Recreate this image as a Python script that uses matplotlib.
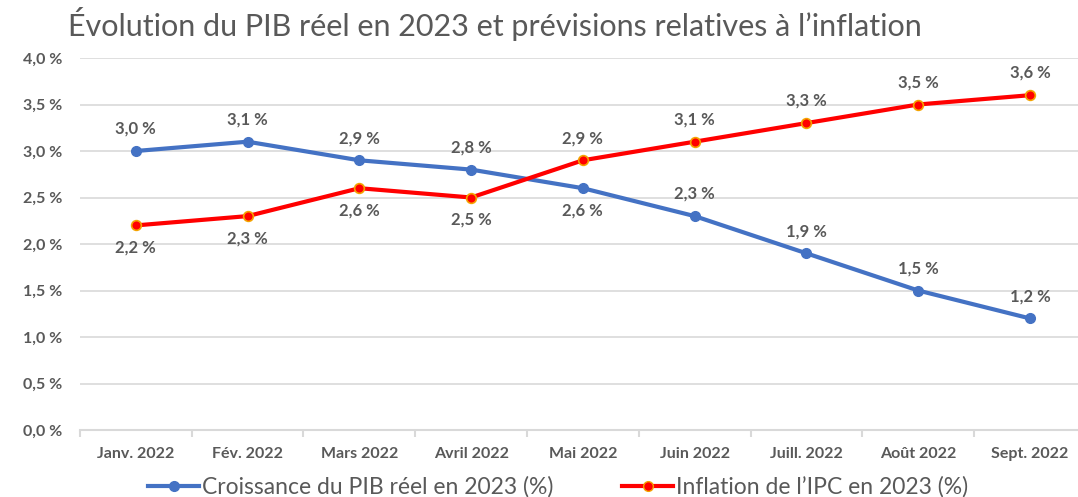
import matplotlib.pyplot as plt
from matplotlib.lines import Line2D

plt.rcParams['font.family'] = ['Lato', 'DejaVu Sans']

MONTHS = ["Janv. 2022", "Fév. 2022", "Mars 2022", "Avril 2022", "Mai 2022",
          "Juin 2022", "Juill. 2022", "Août 2022", "Sept. 2022"]
PIB = [3.0, 3.1, 2.9, 2.8, 2.6, 2.3, 1.9, 1.5, 1.2]
IPC = [2.2, 2.3, 2.6, 2.5, 2.9, 3.1, 3.3, 3.5, 3.6]
# label above (+1) or below (-1) each point
PIB_POS = [1, 1, 1, 1, -1, 1, 1, 1, 1]
IPC_POS = [-1, -1, -1, -1, 1, 1, 1, 1, 1]

BLUE = "#4472C4"
RED = "#FF0000"
GRAY = "#595959"
GRID = "#D9D9D9"

fig = plt.figure(figsize=(10.78, 4.97), dpi=100)
ax = fig.add_axes([0.0742, 0.1348, 0.933, 0.7485])

x = list(range(len(MONTHS)))
ax.plot(x, PIB, color=BLUE, lw=3, marker="o", ms=7, mfc=BLUE, mec=BLUE, zorder=3)
ax.plot(x, IPC, color=RED, lw=3, marker="o", ms=7, mfc=RED, mec="#F4A300",
        mew=1.2, zorder=3)

def fmt(v):
    return f"{v:.1f}".replace(".", ",") + " %"

for xs, vals, pos in [(x, PIB, PIB_POS), (x, IPC, IPC_POS)]:
    for xi, v, p in zip(xs, vals, pos):
        ax.annotate(fmt(v), (xi, v), xytext=(0, 16 * p), textcoords="offset points",
                    ha="center", va="center", fontsize=12, fontweight="bold",
                    color=GRAY)

ax.set_xlim(-0.5, 8.5)
ax.set_ylim(0, 4.0)
ax.set_yticks([i * 0.5 for i in range(9)])
ax.set_yticklabels([fmt(i * 0.5) for i in range(9)], fontsize=11.5,
                   fontweight="bold", color=GRAY)
ax.set_xticks(x)
ax.set_xticklabels(MONTHS, fontsize=11.5, fontweight="bold", color=GRAY)
ax.set_xticks([i - 0.5 for i in range(len(MONTHS) + 1)], minor=True)
ax.tick_params(axis="x", which="major", length=0, pad=12)
ax.tick_params(axis="x", which="minor", length=5, color=GRID, width=1.5)
ax.tick_params(axis="y", length=0, pad=13)
ax.grid(axis="y", color=GRID, lw=1.2)
ax.set_axisbelow(True)
for s in ["top", "right", "left"]:
    ax.spines[s].set_visible(False)
ax.spines["bottom"].set_color(GRID)
ax.spines["bottom"].set_linewidth(1.5)

fig.text(0.063, 0.952, "Évolution du PIB réel en 2023 et prévisions relatives à l\u2019inflation",
         fontsize=22, color=GRAY, ha="left", va="center")

handles = [
    Line2D([], [], color=BLUE, lw=3, marker="o", ms=7, mfc=BLUE, mec=BLUE),
    Line2D([], [], color=RED, lw=3, marker="o", ms=7, mfc=RED, mec="#F4A300"),
]
fig.legend(handles, ["Croissance du PIB réel en 2023 (%)",
                     "Inflation de l\u2019IPC en 2023 (%)"],
           loc="center", bbox_to_anchor=(0.518, 0.02), ncol=2, frameon=False,
           fontsize=16.5, labelcolor=GRAY, handlelength=2.2, handletextpad=0.15,
           columnspacing=3.0)

fig.savefig("out.png", dpi=100)
